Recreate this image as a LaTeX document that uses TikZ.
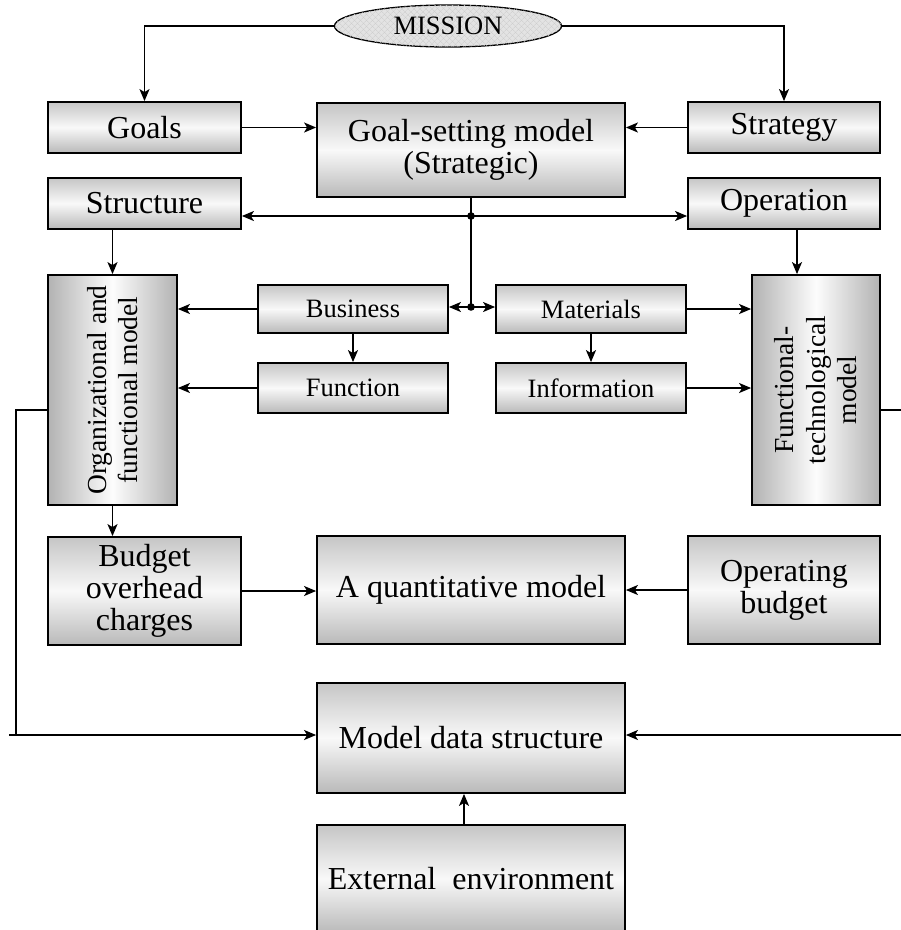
\documentclass[tikz,border=0pt]{standalone}
\usepackage{fontspec}
\setmainfont{Liberation Serif}
\usetikzlibrary{arrows.meta,shapes.geometric,patterns.meta}
\tikzset{
  frame/.style={draw=black, line width=1.8pt, rectangle, inner sep=0pt, align=center,
    text=black, font=\fontsize{32}{32}\selectfont},
  small/.style={font=\fontsize{26.5}{28}\selectfont},
  hshade/.style={top color=gray!45, bottom color=gray!55, middle color=gray!5},
  vshade/.style={left color=gray!60, right color=gray!60, middle color=gray!2},
  wide/.style={minimum width=193pt, minimum height=51pt},
  arr/.style={-{Stealth[length=12pt,width=10pt,inset=3pt]}},
  dot/.style={fill=black},
}
\newcommand{\vtext}[1]{\rotatebox{90}{\parbox{220pt}{\centering\fontsize{27.5}{31.5}\selectfont #1}}}
\begin{document}
\begin{tikzpicture}[x=1pt, y=-1pt, line width=1.6pt]
\useasboundingbox (0,0) rectangle (901,930);

% mission ellipse with diagonal hatching
\node[ellipse, draw, line width=1.3pt, minimum width=227pt, minimum height=42pt,
  inner sep=0pt, fill=gray!22,
  postaction={pattern={Lines[angle=45,distance=4pt,line width=0.5pt]}, pattern color=gray!40},
  postaction={pattern={Lines[angle=-45,distance=4pt,line width=0.5pt]}, pattern color=gray!40},
  font=\fontsize{26.5}{28}\selectfont] (mission) at (448,26) {MISSION};

% top row
\node[frame, hshade, wide] (goals) at (144.5,127.5) {Goals};
\node[frame, hshade, minimum width=308pt, minimum height=94pt] (gsm) at (471,150)
  {Goal-setting model\\(Strategic)};
\node[frame, hshade, minimum width=192pt, minimum height=51pt] (strategy) at (784,127.5) {Strategy};

% second row
\node[frame, hshade, wide] (structure) at (144.5,203.5) {Structure};
\node[frame, hshade, minimum width=192pt, minimum height=51pt] (operation) at (784,203.5) {Operation};

% middle small boxes
\node[frame, hshade, small, minimum width=190pt, minimum height=48pt] (business) at (353,309) {Business};
\node[frame, hshade, small, minimum width=190pt, minimum height=48pt] (materials) at (591,309) {Materials};
\node[frame, hshade, small, minimum width=190pt, minimum height=50pt] (function) at (353,388) {Function};
\node[frame, hshade, small, minimum width=190pt, minimum height=50pt] (information) at (591,388) {Information};

% tall side models
\node[frame, vshade, minimum width=129pt, minimum height=230pt] (org) at (112.5,390)
  {\vtext{Organizational and\\functional model}};
\node[frame, vshade, minimum width=128pt, minimum height=230pt] (ft) at (816,390)
  {\vtext{Functional-\\technological\\model}};

% budget row
\node[frame, hshade, minimum width=193pt, minimum height=108pt] (budget) at (144.5,591)
  {Budget\\overhead\\charges};
\node[frame, hshade, minimum width=308pt, minimum height=108pt] (quant) at (471,590)
  {A quantitative model};
\node[frame, hshade, minimum width=192pt, minimum height=108pt] (opbudget) at (784,590)
  {Operating\\budget};

% bottom
\node[frame, hshade, minimum width=308pt, minimum height=110pt] (mds) at (471,738)
  {Model data structure};
\node[frame, hshade, minimum width=308pt, minimum height=108pt] (ext) at (471,879)
  {External~~environment};

% connectors
\draw[arr] (mission.west) -| (goals.north);
\draw[arr] (mission.east) -| (strategy.north);
\draw[arr] (goals.east) -- (goals.east -| gsm.west);
\draw[arr] (strategy.west) -- (strategy.west -| gsm.east);

\coordinate (j1) at (gsm.south |- 0,216);
\coordinate (j2) at (gsm.south |- 0,307);
\draw (gsm.south) -- (j2);
\draw[arr] (j1) -- (j1 -| structure.east);
\draw[arr] (j1) -- (j1 -| operation.west);
\draw[arr] (j2) -- (j2 -| business.east);
\draw[arr] (j2) -- (j2 -| materials.west);
\fill[dot] (j1) circle (3.8pt);
\fill[dot] (j2) circle (3.8pt);

\draw[arr] (structure.south -| org.north) -- (org.north);
\draw[arr] ([xshift=13pt]operation.south) -- ([xshift=13pt]operation.south |- ft.north);
\draw[arr] (business.south) -- (function.north);
\draw[arr] (materials.south) -- (information.north);
\draw[arr] (business.west) -- (business.west -| org.east);
\draw[arr] (function.west) -- (function.west -| org.east);
\draw[arr] (materials.east) -- (materials.east -| ft.west);
\draw[arr] (information.east) -- (information.east -| ft.west);

\draw[arr] (org.south) -- (org.south |- budget.north);
\draw[arr] (budget.east) -- (budget.east -| quant.west);
\draw[arr] (opbudget.west) -- (opbudget.west -| quant.east);

% feedback lines into the data structure
\coordinate (lturn) at (16,410);
\coordinate (lcorner) at (16,735);
\coordinate (lend) at (9,735);
\draw (lturn -| org.west) -- (lturn) -- (lcorner);
\draw[arr] (lend) -- (lend -| mds.west);
\coordinate (rout) at (905,410);
\coordinate (rin) at (905,735);
\draw (rout -| ft.east) -- (rout);
\draw[arr] (rin) -- (rin -| mds.east);

\draw[arr] ([xshift=-7pt]ext.north) -- ([xshift=-7pt]mds.south);
\end{tikzpicture}
\end{document}
